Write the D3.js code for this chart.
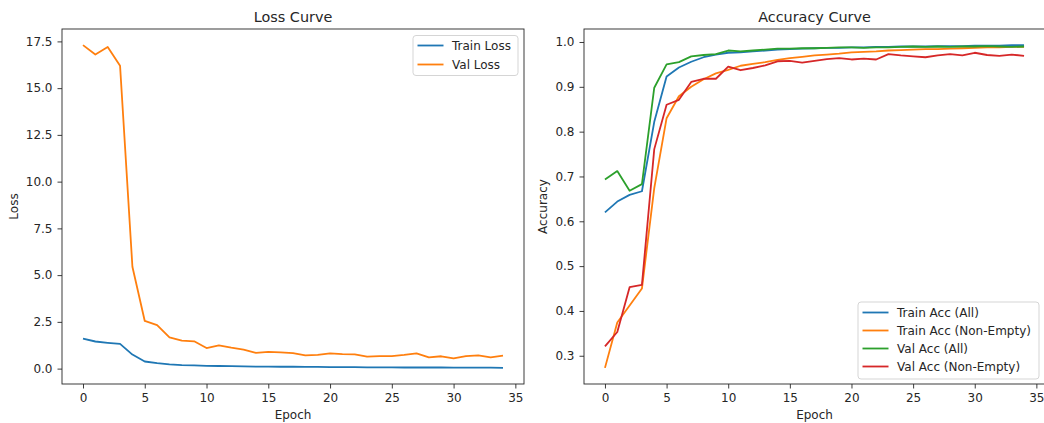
<!DOCTYPE html>
<html>
<head>
<meta charset="utf-8">
<script src="https://cdn.jsdelivr.net/npm/d3@7"></script>
<style>
  body { margin: 0; background: #fff; }
  text { font-family: "DejaVu Sans", sans-serif; fill: #262626; }
</style>
</head>
<body>
<svg id="fig" width="1044" height="423"></svg>
<script>
// values
const epochs = d3.range(35);
const trainLoss = [1.60,1.45,1.38,1.32,0.75,0.38,0.29,0.23,0.19,0.17,0.15,0.14,0.13,0.12,0.11,0.11,0.10,0.10,0.09,0.09,0.08,0.08,0.08,0.07,0.07,0.07,0.06,0.06,0.06,0.06,0.05,0.05,0.05,0.05,0.04];
const valLoss = [17.3,16.8,17.2,16.2,5.45,2.55,2.33,1.67,1.50,1.46,1.10,1.24,1.12,1.02,0.84,0.89,0.87,0.83,0.71,0.73,0.82,0.78,0.76,0.64,0.67,0.67,0.73,0.82,0.60,0.66,0.55,0.67,0.71,0.60,0.69];
const trainAccAll = [0.620,0.644,0.659,0.667,0.822,0.923,0.943,0.956,0.966,0.972,0.976,0.977,0.979,0.981,0.983,0.984,0.985,0.986,0.987,0.987,0.988,0.988,0.989,0.989,0.990,0.990,0.990,0.991,0.991,0.991,0.992,0.992,0.992,0.993,0.993];
const trainAccNE = [0.273,0.374,0.412,0.450,0.674,0.830,0.879,0.900,0.917,0.930,0.938,0.947,0.951,0.955,0.960,0.964,0.967,0.970,0.972,0.974,0.977,0.978,0.979,0.981,0.982,0.983,0.984,0.984,0.985,0.986,0.987,0.988,0.988,0.989,0.989];
const valAccAll = [0.693,0.712,0.668,0.683,0.898,0.950,0.955,0.968,0.971,0.973,0.981,0.979,0.981,0.983,0.985,0.985,0.986,0.986,0.987,0.988,0.988,0.987,0.988,0.988,0.989,0.990,0.989,0.990,0.989,0.990,0.990,0.991,0.990,0.989,0.990];
const valAccNE = [0.321,0.353,0.453,0.458,0.761,0.860,0.871,0.911,0.918,0.918,0.945,0.937,0.942,0.948,0.957,0.958,0.954,0.958,0.962,0.964,0.961,0.963,0.961,0.973,0.970,0.968,0.966,0.970,0.973,0.970,0.976,0.971,0.969,0.972,0.969];

const xTicks = [0, 5, 10, 15, 20, 25, 30, 35];
const lossTicks = [0, 2.5, 5, 7.5, 10, 12.5, 15, 17.5];
const accTicks = [0.3, 0.4, 0.5, 0.6, 0.7, 0.8, 0.9, 1.0];

const colors = ["#1f77b4", "#ff7f0e", "#2ca02c", "#d62728"];

const svg = d3.select("#fig");

// matplotlib style autoscale with 5% margins
function padded(vals) {
  const lo = d3.min(vals), hi = d3.max(vals), m = (hi - lo) * 0.05;
  return [lo - m, hi + m];
}

function drawPanel(opt) {
  const { left, top, width, height } = opt;
  const g = svg.append("g").attr("transform", `translate(${left},${top})`);

  const x = d3.scaleLinear().domain(padded(epochs)).range([0, width]);
  const all = opt.series.flatMap(s => s.values);
  const y = d3.scaleLinear().domain(padded(all)).range([height, 0]);

  const xAxis = g.append("g")
    .attr("transform", `translate(0,${height})`)
    .call(d3.axisBottom(x).tickValues(xTicks).tickFormat(d3.format("d")).tickSize(4.5).tickPadding(5));
  const yAxis = g.append("g")
    .call(d3.axisLeft(y).tickValues(opt.yTicks).tickFormat(d3.format(".1f")).tickSize(4.5).tickPadding(5));
  [xAxis, yAxis].forEach(a => {
    a.select(".domain").remove();
    a.selectAll("line").attr("stroke", "#262626").attr("stroke-width", 0.9);
    a.selectAll("text").style("font-size", "12px").style("font-family", "DejaVu Sans").attr("fill", "#262626");
  });

  const line = d3.line().x((d, i) => x(epochs[i])).y(d => y(d));
  opt.series.forEach((s, i) => {
    g.append("path")
      .datum(s.values)
      .attr("fill", "none")
      .attr("stroke", colors[i])
      .attr("stroke-width", 1.8)
      .attr("stroke-linejoin", "round")
      .attr("d", line);
  });

  // frame
  g.append("rect")
    .attr("width", width).attr("height", height)
    .attr("fill", "none").attr("stroke", "#262626").attr("stroke-width", 0.9);

  g.append("text")
    .attr("x", width / 2).attr("y", -7.5)
    .attr("text-anchor", "middle")
    .style("font-size", "14.4px")
    .text(opt.title);

  g.append("text")
    .attr("x", width / 2).attr("y", height + 35)
    .attr("text-anchor", "middle")
    .style("font-size", "12px")
    .text("Epoch");

  g.append("text")
    .attr("transform", `rotate(-90)`)
    .attr("x", -height / 2).attr("y", opt.ylabelX)
    .attr("text-anchor", "middle")
    .attr("dominant-baseline", "middle")
    .style("font-size", "12px")
    .text(opt.ylabel);

  // legend
  const lg = svg.append("g").attr("transform", `translate(${opt.legend.x},${opt.legend.y})`);
  lg.append("rect")
    .attr("width", opt.legend.w).attr("height", opt.legend.h)
    .attr("rx", 3)
    .attr("fill", "#fff").attr("fill-opacity", 0.8)
    .attr("stroke", "#d0d0d0").attr("stroke-width", 0.9);
  opt.series.forEach((s, i) => {
    const ry = opt.legend.first + i * opt.legend.step;
    lg.append("line")
      .attr("x1", 4.5).attr("x2", 30.5)
      .attr("y1", ry).attr("y2", ry)
      .attr("stroke", colors[i]).attr("stroke-width", 1.8);
    lg.append("text")
      .attr("x", 39).attr("y", ry)
      .attr("dominant-baseline", "central")
      .style("font-size", "12px")
      .text(s.name);
  });
}

drawPanel({
  left: 62, top: 29, width: 462, height: 355,
  title: "Loss Curve", ylabel: "Loss", ylabelX: -48,
  yTicks: lossTicks,
  series: [
    { name: "Train Loss", values: trainLoss },
    { name: "Val Loss", values: valLoss }
  ],
  legend: { x: 413, y: 35.5, w: 105, h: 40, first: 10, step: 19 }
});

drawPanel({
  left: 584, top: 29, width: 461, height: 355,
  title: "Accuracy Curve", ylabel: "Accuracy", ylabelX: -41,
  yTicks: accTicks,
  series: [
    { name: "Train Acc (All)", values: trainAccAll },
    { name: "Train Acc (Non-Empty)", values: trainAccNE },
    { name: "Val Acc (All)", values: valAccAll },
    { name: "Val Acc (Non-Empty)", values: valAccNE }
  ],
  legend: { x: 858, y: 302, w: 181, h: 77, first: 10.5, step: 18 }
});
</script>
</body>
</html>
